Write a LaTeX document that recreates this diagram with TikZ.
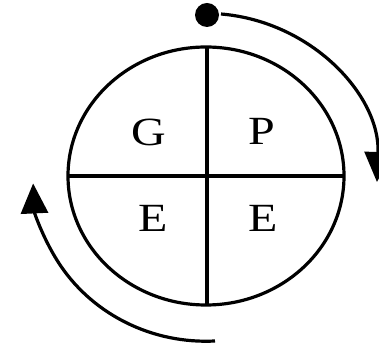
\documentclass[tikz,border=0pt]{standalone}
\usepackage{fontspec}
\setmainfont{Liberation Serif}
\usetikzlibrary{arrows.meta,shapes.geometric}

\begin{document}
\begin{tikzpicture}[x=1pt, y=1pt,
  quadlbl/.style={font=\fontsize{40}{40}\selectfont, inner sep=0pt, xscale=1.2},
  rim/.style={line width=3.2pt, draw=black},
  cyc/.style={-{Triangle[length=30pt, width=27pt]}, line width=3.2pt, draw=black}
]
\useasboundingbox (-206,-171) rectangle (173,176);

\node[ellipse, minimum width=276pt, minimum height=258pt, rim, inner sep=0pt] (wheel) at (0,0) {};
\coordinate (top) at (1,129);
\coordinate (bot) at (1,-129);
\coordinate (lft) at (-138,0);
\coordinate (rgt) at (138,0);

\draw[rim] (top) -- (bot);
\draw[rim] (lft) -- (rgt);

\node[quadlbl] (g) at (-57,44) {G};
\node[quadlbl] (p) at (56,45) {P};
\node[quadlbl] (e1) at (-53,-42) {E};
\node[quadlbl] (e2) at (57,-42) {E};

% start point and the two turning arrows
\node[circle, fill=black, minimum size=24pt, inner sep=0pt] (start) at (1,161) {};
\coordinate (upstart) at (15,162);
\coordinate (lowstart) at (9,-165);
\draw[cyc] (upstart) arc[start angle=85, end angle=-2, x radius=171, y radius=163];
\draw[cyc] (lowstart) arc[start angle=-87, end angle=-177.5, x radius=173, y radius=165];

\end{tikzpicture}
\end{document}
